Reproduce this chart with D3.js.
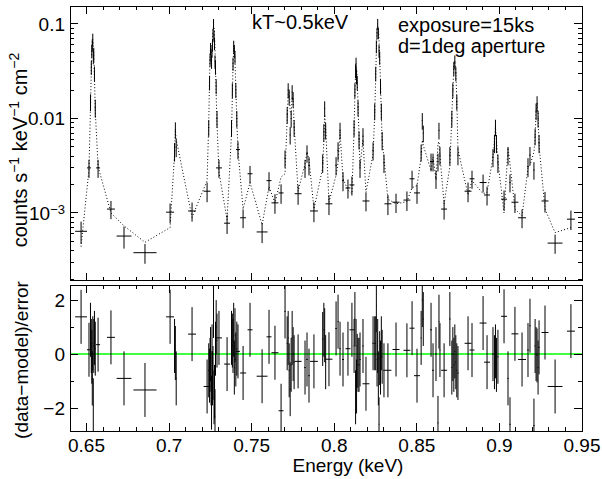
<!DOCTYPE html>
<html>
<head>
<meta charset="utf-8">
<script src="https://cdn.jsdelivr.net/npm/d3@7/dist/d3.min.js"></script>
<style>
body { margin: 0; background: #fff; }
svg { font-family: "Liberation Sans", Arial, Helvetica, sans-serif; }
</style>
</head>
<body>
<svg id="chart" width="602" height="479"></svg>
<script>
// spectral bins: centre energy (keV), half width (keV)
var binE = [
	0.6467, 0.6515, 0.6524, 0.6529, 0.6532, 0.6535, 0.6538, 0.6541, 0.6544, 0.6548, 0.6553, 0.6570,
	0.6648, 0.6727, 0.6854, 0.7006, 0.7033, 0.7038, 0.7043, 0.7139, 0.7230,
	0.7240, 0.7245, 0.7248, 0.7251, 0.7254, 0.7257, 0.7260, 0.7263, 0.7266, 0.7269, 0.7272, 0.7275, 0.7278, 0.7281, 0.7285, 0.7290,
	0.7302, 0.7351,
	0.7378, 0.7383, 0.7387, 0.7391, 0.7395, 0.7399, 0.7404, 0.7410, 0.7417,
	0.7448, 0.7490, 0.7563, 0.7605, 0.7641, 0.7678,
	0.7702, 0.7715, 0.7721, 0.7727, 0.7733, 0.7739, 0.7745, 0.7751, 0.7757, 0.7781,
	0.7823, 0.7835, 0.7847, 0.7877,
	0.7930, 0.7937, 0.7942, 0.7948, 0.7968,
	0.8011, 0.8023, 0.8035, 0.8053, 0.8083, 0.8107,
	0.8120, 0.8125, 0.8129, 0.8132, 0.8135, 0.8139, 0.8144, 0.8150, 0.8156, 0.8174, 0.8192,
	0.8235, 0.8245, 0.8251, 0.8255, 0.8259, 0.8263, 0.8267, 0.8271, 0.8275, 0.8280, 0.8285, 0.8290, 0.8301,
	0.8325, 0.8374, 0.8440, 0.8471, 0.8501,
	0.8526, 0.8533, 0.8539, 0.8586, 0.8598, 0.8616, 0.8628, 0.8634, 0.8640, 0.8665,
	0.8700, 0.8712, 0.8718, 0.8724, 0.8730, 0.8736, 0.8742, 0.8749,
	0.8810, 0.8834, 0.8901, 0.8925,
	0.8961, 0.8970, 0.8976, 0.8982, 0.8991,
	0.9028, 0.9052, 0.9064, 0.9094, 0.9137,
	0.9173, 0.9185, 0.9209, 0.9216, 0.9222, 0.9228, 0.9234, 0.9240,
	0.9276, 0.9337, 0.9433
];
var binHW = [
	0.0036, 0.0012, 0.0003, 0.0002, 0.0002, 0.0002, 0.0002, 0.0002, 0.0002, 0.0002, 0.0003, 0.0012,
	0.0024, 0.0045, 0.0070, 0.0024, 0.0003, 0.0003, 0.0003, 0.0024, 0.0021,
	0.0003, 0.0002, 0.0002, 0.0002, 0.0002, 0.0002, 0.0002, 0.0002, 0.0002, 0.0002, 0.0002, 0.0002, 0.0002, 0.0002, 0.0002, 0.0003,
	0.0018, 0.0018,
	0.0003, 0.0002, 0.0002, 0.0002, 0.0002, 0.0002, 0.0002, 0.0003, 0.0012,
	0.0018, 0.0015, 0.0033, 0.0015, 0.0021, 0.0015,
	0.0004, 0.0003, 0.0003, 0.0003, 0.0003, 0.0003, 0.0003, 0.0003, 0.0003, 0.0021,
	0.0005, 0.0005, 0.0005, 0.0024,
	0.0004, 0.0003, 0.0003, 0.0003, 0.0021,
	0.0005, 0.0004, 0.0004, 0.0006, 0.0015, 0.0015,
	0.0003, 0.0002, 0.0002, 0.0002, 0.0002, 0.0002, 0.0003, 0.0003, 0.0004, 0.0004, 0.0021,
	0.0004, 0.0003, 0.0002, 0.0002, 0.0002, 0.0002, 0.0002, 0.0002, 0.0002, 0.0002, 0.0003, 0.0003, 0.0004,
	0.0021, 0.0021, 0.0021, 0.0015, 0.0018,
	0.0003, 0.0003, 0.0003, 0.0006, 0.0006, 0.0004, 0.0003, 0.0003, 0.0003, 0.0018,
	0.0004, 0.0003, 0.0003, 0.0003, 0.0003, 0.0003, 0.0003, 0.0004,
	0.0021, 0.0015, 0.0021, 0.0018,
	0.0004, 0.0003, 0.0003, 0.0003, 0.0004,
	0.0018, 0.0004, 0.0004, 0.0021, 0.0024,
	0.0005, 0.0004, 0.0004, 0.0003, 0.0003, 0.0003, 0.0003, 0.0004,
	0.0021, 0.0045, 0.0024
];
// observed rate and 1-sigma error (counts s^-1 keV^-1 cm^-2)
var rate = [
	6.4e-4, 3.0e-3, 0.015, 0.035, 0.052, 0.060, 0.069, 0.045, 0.048, 0.030, 0.013, 3.0e-3,
	1.1e-3, 5.7e-4, 3.8e-4, 1.02e-3, 4.5e-3, 7.6e-3, 5.0e-3, 1.05e-3, 1.7e-3,
	8.0e-3, 0.024, 0.042, 0.055, 0.046, 0.040, 0.052, 0.060, 0.078, 0.100, 0.075, 0.062, 0.040, 0.035, 0.022, 0.010,
	3.0e-3, 7.8e-4,
	8.0e-3, 0.020, 0.038, 0.058, 0.052, 0.045, 0.020, 0.010, 4.7e-3,
	8.9e-4, 2.6e-3, 6.3e-4, 2.2e-3, 1.28e-3, 1.63e-3,
	3.8e-3, 0.011, 0.020, 0.017, 6.7e-3, 0.010, 0.019, 0.016, 8.0e-3, 1.6e-3,
	3.0e-3, 4.3e-3, 3.2e-3, 1.05e-3,
	3.4e-3, 7.2e-3, 0.0128, 7.5e-3, 1.25e-3,
	3.2e-3, 4.6e-3, 7.5e-3, 2.2e-3, 1.84e-3, 1.98e-3,
	8.0e-3, 0.020, 0.032, 0.038, 0.028, 0.024, 0.013, 6.0e-3, 3.0e-3, 6.5e-3, 1.34e-3,
	4.6e-3, 0.012, 0.030, 0.058, 0.080, 0.100, 0.080, 0.052, 0.044, 0.022, 0.012, 5.9e-3, 3.4e-3,
	1.25e-3, 1.3e-3, 1.37e-3, 2.3e-3, 1.63e-3,
	4.4e-3, 9.5e-3, 7.0e-3, 3.5e-3, 3.5e-3, 2.3e-3, 3.5e-3, 7.5e-3, 4.1e-3, 1.1e-3,
	4.1e-3, 0.010, 0.020, 0.034, 0.040, 0.030, 0.015, 4.1e-3,
	1.7e-3, 2.3e-3, 2.1e-3, 1.55e-3,
	3.9e-3, 5.5e-3, 8.1e-3, 5.5e-3, 3.4e-3,
	1.4e-3, 4.1e-3, 2.1e-3, 1.3e-3, 8.9e-4,
	3.1e-3, 4.1e-3, 2.85e-3, 6.5e-3, 0.012, 0.0144, 0.010, 5.5e-3,
	1.34e-3, 4.8e-4, 8.6e-4
];
var rateErr = [
	1.7e-4, 6.5e-4, 3.0e-3, 6.0e-3, 8.0e-3, 9.0e-3, 1.0e-2, 7.5e-3, 8.0e-3, 5.5e-3, 2.8e-3, 6.5e-4,
	2.4e-4, 1.5e-4, 9.0e-5, 2.4e-4, 1.0e-3, 1.5e-3, 1.1e-3, 2.4e-4, 4.0e-4,
	1.6e-3, 4.2e-3, 6.5e-3, 8.0e-3, 7.0e-3, 6.5e-3, 8.0e-3, 9.0e-3, 1.1e-2, 1.3e-2, 1.1e-2, 9.0e-3, 6.5e-3, 6.0e-3, 4.0e-3, 2.0e-3,
	6.5e-4, 1.8e-4,
	1.6e-3, 3.6e-3, 6.0e-3, 8.5e-3, 8.0e-3, 7.0e-3, 3.6e-3, 2.0e-3, 1.0e-3,
	2.0e-4, 5.5e-4, 1.5e-4, 5.0e-4, 3.0e-4, 3.8e-4,
	8.0e-4, 2.2e-3, 3.6e-3, 3.2e-3, 1.4e-3, 2.0e-3, 3.5e-3, 3.0e-3, 1.6e-3, 3.8e-4,
	6.5e-4, 9.0e-4, 7.0e-4, 2.5e-4,
	7.5e-4, 1.5e-3, 2.4e-3, 1.5e-3, 3.0e-4,
	7.0e-4, 1.0e-3, 1.5e-3, 5.0e-4, 4.2e-4, 4.5e-4,
	1.6e-3, 3.6e-3, 5.5e-3, 6.0e-3, 5.0e-3, 4.2e-3, 2.5e-3, 1.3e-3, 6.5e-4, 1.4e-3, 3.0e-4,
	1.0e-3, 2.4e-3, 5.2e-3, 9.0e-3, 1.1e-2, 1.3e-2, 1.1e-2, 8.0e-3, 7.0e-3, 4.0e-3, 2.4e-3, 1.3e-3, 7.5e-4,
	3.0e-4, 3.0e-4, 3.2e-4, 5.0e-4, 3.8e-4,
	9.0e-4, 1.9e-3, 1.4e-3, 7.5e-4, 7.5e-4, 5.0e-4, 7.5e-4, 1.5e-3, 9.0e-4, 2.5e-4,
	9.0e-4, 2.0e-3, 3.6e-3, 5.8e-3, 6.5e-3, 5.2e-3, 2.8e-3, 9.0e-4,
	4.0e-4, 5.0e-4, 4.5e-4, 3.5e-4,
	8.5e-4, 1.2e-3, 1.6e-3, 1.2e-3, 7.5e-4,
	3.3e-4, 9.0e-4, 4.5e-4, 3.0e-4, 2.0e-4,
	7.0e-4, 9.0e-4, 6.0e-4, 1.3e-3, 2.4e-3, 2.8e-3, 2.0e-3, 1.2e-3,
	3.3e-4, 1.1e-4, 2.0e-4
];
// folded model at each bin (dotted curve)
var model = [
	4.4e-4, 2.9e-3, 0.013, 0.033, 0.054, 0.066, 0.066, 0.060, 0.046, 0.028, 0.012, 3.1e-3,
	1.0e-3, 7.3e-4, 4.9e-4, 7.0e-4, 4.2e-3, 7.5e-3, 6.0e-3, 9.0e-4, 2.2e-3,
	9.0e-3, 0.027, 0.045, 0.055, 0.052, 0.050, 0.052, 0.068, 0.086, 0.095, 0.092, 0.075, 0.054, 0.034, 0.018, 9.0e-3,
	2.7e-3, 8.5e-4,
	7.0e-3, 0.018, 0.036, 0.055, 0.056, 0.040, 0.021, 9.5e-3, 4.6e-3,
	1.1e-3, 2.1e-3, 7.5e-4, 1.9e-3, 1.27e-3, 2.4e-3,
	2.6e-3, 0.010, 0.018, 0.019, 0.012, 0.011, 0.017, 0.016, 8.5e-3, 1.7e-3,
	3.3e-3, 4.4e-3, 3.7e-3, 1.1e-3,
	3.0e-3, 6.0e-3, 0.011, 8.0e-3, 1.3e-3,
	2.5e-3, 3.4e-3, 7.2e-3, 2.3e-3, 1.75e-3, 1.6e-3,
	7.5e-3, 0.018, 0.030, 0.036, 0.034, 0.025, 0.014, 6.5e-3, 3.1e-3, 6.0e-3, 1.65e-3,
	4.2e-3, 0.011, 0.028, 0.052, 0.082, 0.096, 0.090, 0.068, 0.045, 0.024, 0.011, 6.0e-3, 3.8e-3,
	1.4e-3, 1.25e-3, 1.32e-3, 1.85e-3, 1.95e-3,
	3.9e-3, 5.9e-3, 5.2e-3, 2.8e-3, 3.9e-3, 2.3e-3, 5.4e-3, 5.7e-3, 4.0e-3, 1.25e-3,
	3.1e-3, 0.011, 0.020, 0.036, 0.040, 0.032, 0.016, 4.7e-3,
	1.55e-3, 2.2e-3, 1.6e-3, 1.65e-3,
	3.9e-3, 5.8e-3, 8.0e-3, 6.0e-3, 3.5e-3,
	1.0e-3, 4.9e-3, 3.3e-3, 1.1e-3, 9.3e-4,
	3.0e-3, 3.2e-3, 4.4e-3, 6.1e-3, 0.012, 0.0145, 0.011, 5.2e-3,
	1.1e-3, 6.2e-4, 7.0e-4
];
// (data-model)/error
var resid = [
	1.38, 0.16, 0.9, 0.3, -0.1, -0.9, 0.4, -1.9, 0.3, 0.6, 0.2, 0.35,
	0.62, -0.9, -1.33, 1.38, 0.3, 0.04, -0.9, 0.74, -1.2,
	-0.6, -0.8, -0.4, 0.0, -0.9, -1.8, 0.1, -0.9, -0.7, 1.6, -1.6, -1.4, -2.3, 0.2, 1.0, 0.5,
	0.6, -0.37,
	0.6, 0.5, 0.3, 0.9, -0.5, 0.7, -0.2, 0.2, 0.1,
	-0.7, 0.9, -0.82, 0.64, 0.05, -2.1,
	1.58, 0.4, 0.6, -0.6, -1.3, -0.4, 0.6, 0.0, -0.3, -0.27,
	-0.5, -0.2, -0.8, -0.27,
	0.56, 0.9, 0.7, -0.3, -0.19,
	0.95, 1.2, 0.2, -0.2, 0.2, 0.9,
	0.3, 1.3, -1.6, 0.3, -1.2, -0.25, -0.4, -0.4, -0.2, 0.3, -1.1,
	0.4, 0.4, 0.4, 1.8, -0.2, 0.3, -0.9, -2.6, -0.15, -0.5, 0.4, -0.1, -0.6,
	-0.6, 0.17, 0.14, 0.96, -0.8,
	0.6, 2.0, 1.3, 0.9, -0.6, 0.0, -2.55, 1.2, 0.15, -0.6,
	1.3, -0.5, 0.0, -0.4, 0.1, -0.3, -0.6, -0.7,
	0.4, 0.15, 1.15, -0.3,
	0.0, -0.3, 0.1, -0.4, -0.1,
	1.4, -0.9, -2.6, 0.75, -0.2,
	0.15, 1.05, -2.65, 0.3, 0.0, -0.05, -0.5, 0.25,
	0.8, -1.2, 0.85
];

var xTickValues = [0.65, 0.7, 0.75, 0.8, 0.85, 0.9, 0.95];
var xTickLabels = ["0.65", "0.7", "0.75", "0.8", "0.85", "0.9", "0.95"];
var yTopTickValues = [0.1, 0.01, 0.001];
var yTopTickLabels = [["0.1", ""], ["0.01", ""], ["10", "\u22123"]];
var yBotTickValues = [2, 0, -2];
var yBotTickLabels = ["2", "0", "\u22122"];

var notes = [
	{text: "kT~0.5keV", x: 252, y: 29},
	{text: "exposure=15ks", x: 398, y: 32},
	{text: "d=1deg aperture", x: 398, y: 53}
];

var bins = binE.map(function(e, i) {
	return {e: e, hw: binHW[i], r: rate[i], err: rateErr[i], m: model[i], res: resid[i]};
});

var left = 70, right = 582;
var top1 = 6, bot1 = 280.5, top2 = 285, bot2 = 431;

var x = d3.scaleLinear().domain([0.64, 0.95]).range([left, right]);
var yTop = d3.scaleLog().domain([1.93e-4, 0.155]).range([bot1, top1]);
var yBot = d3.scaleLinear().domain([-2.85, 2.56]).range([bot2, top2]);

var svg = d3.select("#chart");
var defs = svg.append("defs");
defs.append("clipPath").attr("id", "clipTop").append("rect")
	.attr("x", left).attr("y", top1).attr("width", right - left).attr("height", bot1 - top1);
defs.append("clipPath").attr("id", "clipBot").append("rect")
	.attr("x", left).attr("y", top2).attr("width", right - left).attr("height", bot2 - top2);

// ---- upper panel: data and model
var upper = svg.append("g").attr("clip-path", "url(#clipTop)");

upper.append("path")
	.datum(bins)
	.attr("d", d3.line().x(function(d) { return x(d.e); }).y(function(d) { return yTop(d.m); }))
	.attr("fill", "none")
	.attr("stroke", "#000")
	.attr("stroke-width", 1)
	.attr("stroke-dasharray", "1,2.2");

var crosses = upper.append("g").attr("stroke", "#000").attr("stroke-width", 1);
crosses.selectAll("line.h").data(bins).enter().append("line")
	.attr("class", "h")
	.attr("x1", function(d) { return x(d.e - d.hw); })
	.attr("x2", function(d) { return x(d.e + d.hw); })
	.attr("y1", function(d) { return yTop(d.r); })
	.attr("y2", function(d) { return yTop(d.r); });
crosses.selectAll("line.v").data(bins).enter().append("line")
	.attr("class", "v")
	.attr("x1", function(d) { return x(d.e); })
	.attr("x2", function(d) { return x(d.e); })
	.attr("y1", function(d) { return yTop(Math.max(d.r - d.err, 1e-5)); })
	.attr("y2", function(d) { return yTop(d.r + d.err); });

// ---- lower panel: residuals
var lower = svg.append("g").attr("clip-path", "url(#clipBot)");
lower.append("line")
	.attr("x1", left).attr("x2", right)
	.attr("y1", yBot(0)).attr("y2", yBot(0))
	.attr("stroke", "#00ff00").attr("stroke-width", 1.5);

var rcross = lower.append("g").attr("stroke", "#000").attr("stroke-width", 1);
rcross.selectAll("line.h").data(bins).enter().append("line")
	.attr("class", "h")
	.attr("x1", function(d) { return x(d.e - d.hw); })
	.attr("x2", function(d) { return x(d.e + d.hw); })
	.attr("y1", function(d) { return yBot(d.res); })
	.attr("y2", function(d) { return yBot(d.res); });
rcross.selectAll("line.v").data(bins).enter().append("line")
	.attr("class", "v")
	.attr("x1", function(d) { return x(d.e); })
	.attr("x2", function(d) { return x(d.e); })
	.attr("y1", function(d) { return yBot(d.res - 1); })
	.attr("y2", function(d) { return yBot(d.res + 1); });

// ---- frames and ticks
var axes = svg.append("g").attr("stroke", "#000").attr("stroke-width", 1).attr("shape-rendering", "crispEdges");
axes.append("rect").attr("x", left).attr("y", top1).attr("width", right - left).attr("height", bot1 - top1).attr("fill", "none");
axes.append("rect").attr("x", left).attr("y", top2).attr("width", right - left).attr("height", bot2 - top2).attr("fill", "none");

function tick(x1, y1, x2, y2) {
	axes.append("line").attr("x1", x1).attr("y1", y1).attr("x2", x2).attr("y2", y2);
}

var xMinor = d3.range(64, 96).map(function(k) { return k / 100; });
[[top1, 1], [bot1, -1], [top2, 1], [bot2, -1]].forEach(function(edge) {
	xMinor.forEach(function(v) {
		var major = xTickValues.some(function(t) { return Math.abs(t - v) < 1e-6; });
		var len = major ? 8 : 4;
		tick(x(v), edge[0], x(v), edge[0] + edge[1] * len);
	});
});

// log ticks on the upper panel
var logTicks = [];
[1e-4, 1e-3, 1e-2, 1e-1].forEach(function(dec) {
	for (var k = 1; k <= 9; k++) {
		var v = dec * k;
		if (v >= 1.93e-4 && v <= 0.155) logTicks.push({v: v, major: k === 1});
	}
});
logTicks.forEach(function(t) {
	var len = t.major ? 8 : 4;
	tick(left, yTop(t.v), left + len, yTop(t.v));
	tick(right, yTop(t.v), right - len, yTop(t.v));
});

// linear ticks on the residual panel
[-2, -1, 0, 1, 2].forEach(function(v) {
	var len = (v % 2 === 0) ? 8 : 4;
	tick(left, yBot(v), left + len, yBot(v));
	tick(right, yBot(v), right - len, yBot(v));
});

// ---- labels
var labels = svg.append("g").attr("fill", "#000").style("font-size", "19px");

yTopTickValues.forEach(function(v, i) {
	var t = labels.append("text")
		.attr("x", 65).attr("y", yTop(v)).attr("dy", "0.36em")
		.attr("text-anchor", "end");
	t.append("tspan").text(yTopTickLabels[i][0]);
	if (yTopTickLabels[i][1]) {
		t.append("tspan").attr("dy", "-0.45em").style("font-size", "13px").text(yTopTickLabels[i][1]);
	}
});

yBotTickValues.forEach(function(v, i) {
	labels.append("text")
		.attr("x", 65).attr("y", yBot(v)).attr("dy", "0.36em")
		.attr("text-anchor", "end")
		.text(yBotTickLabels[i]);
});

xTickValues.forEach(function(v, i) {
	labels.append("text")
		.attr("x", x(v)).attr("y", 452)
		.attr("text-anchor", "middle")
		.text(xTickLabels[i]);
});

labels.append("text")
	.attr("x", 348).attr("y", 472)
	.attr("text-anchor", "middle")
	.text("Energy (keV)");

var yl = labels.append("text")
	.attr("transform", "translate(27,150) rotate(-90)")
	.attr("text-anchor", "middle")
	.style("font-size", "20px");
yl.append("tspan").text("counts s");
yl.append("tspan").attr("dy", -8).style("font-size", "14px").text("\u22121");
yl.append("tspan").attr("dy", 8).text(" keV");
yl.append("tspan").attr("dy", -8).style("font-size", "14px").text("\u22121");
yl.append("tspan").attr("dy", 8).text(" cm");
yl.append("tspan").attr("dy", -8).style("font-size", "14px").text("\u22122");

labels.append("text")
	.attr("transform", "translate(28,360) rotate(-90)")
	.attr("text-anchor", "middle")
	.text("(data\u2212model)/error");

notes.forEach(function(n) {
	labels.append("text").attr("x", n.x).attr("y", n.y).style("font-size", "20px").text(n.text);
});
</script>
</body>
</html>
